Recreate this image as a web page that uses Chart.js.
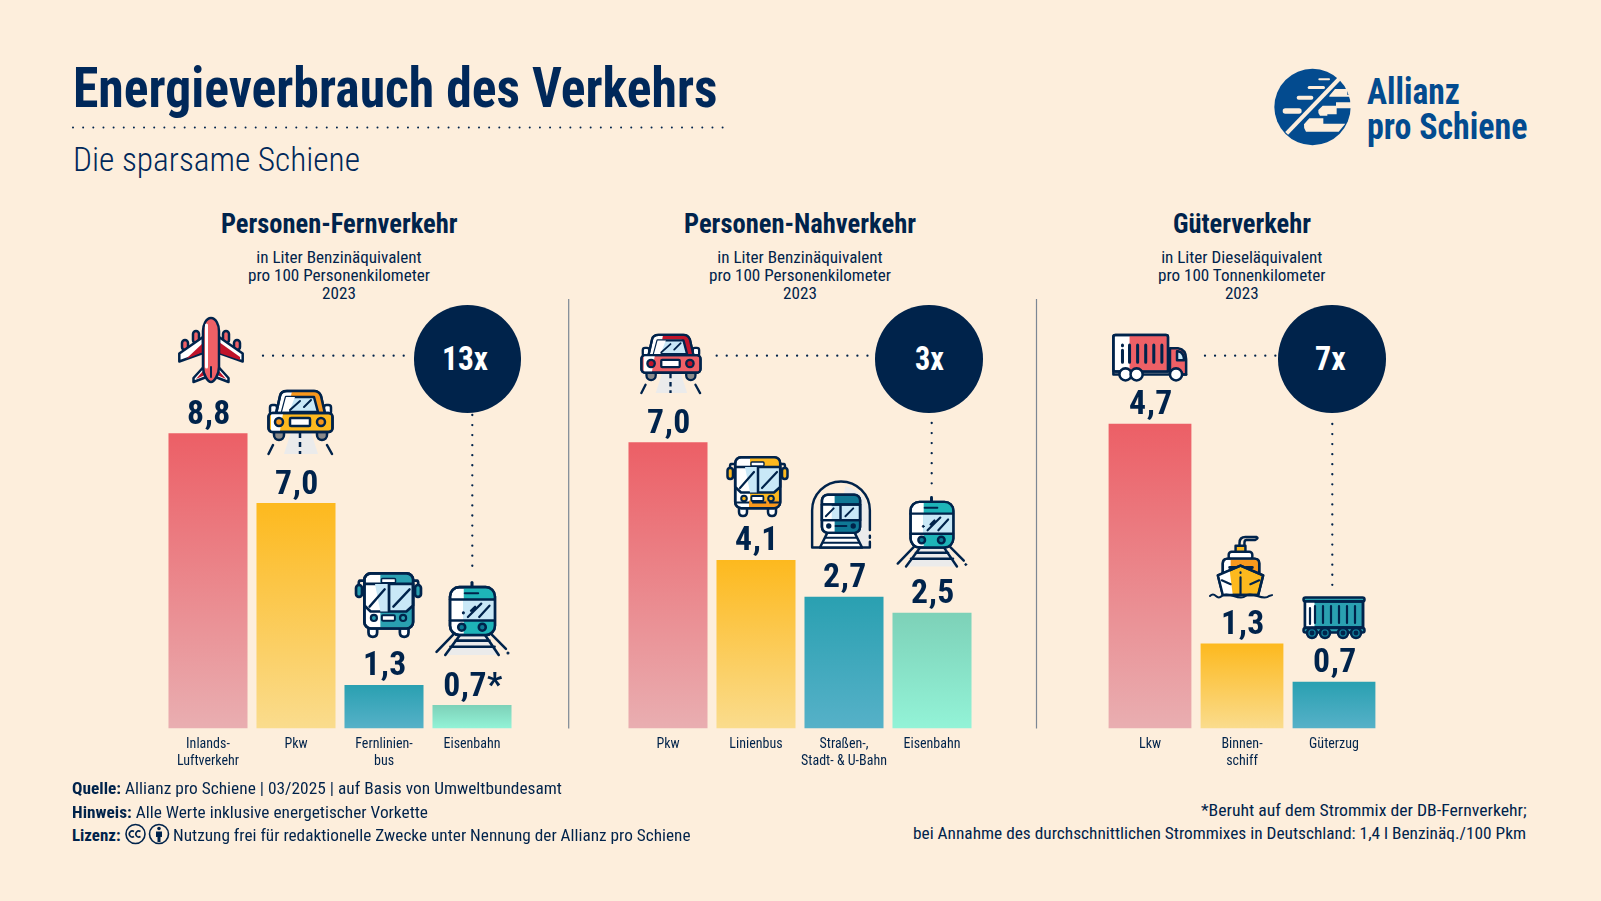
<!DOCTYPE html>
<html lang="de">
<head>
<meta charset="utf-8">
<title>Energieverbrauch des Verkehrs</title>
<script src="https://cdn.jsdelivr.net/npm/chart.js@4"></script>
<style>
  html, body { margin: 0; padding: 0; background: #fdeedc; }
  #page { position: relative; width: 1601px; height: 901px; overflow: hidden; background: #fdeedc;
          color: #00234b; font-family: Roboto, sans-serif; font-stretch: 75%; }
  #page > * { position: absolute; }
  .t { white-space: nowrap; line-height: 1; transform-origin: left top; }
  .ring { border-radius: 50%; background: #00234b; }
</style>
</head>
<body>
<div id="page"></div>
<script>
// Werte wie beschriftet
const fernLabels = ['8,8', '7,0', '1,3', '0,7*'];
const nahLabels = ['7,0', '4,1', '2,7', '2,5'];
const gutLabels = ['4,7', '1,3', '0,7'];

// Balkenlaengen (die Grafik zeichnet nicht ganz massstabsgetreu)
const fernBars = [8.8, 6.72, 1.3, 0.7];
const nahBars = [7.0, 4.12, 3.22, 2.83];
const gutBars = [4.7, 1.31, 0.72];

const fernCats = [['Inlands-', 'Luftverkehr'], 'Pkw', ['Fernlinien-', 'bus'], 'Eisenbahn'];
const nahCats = ['Pkw', 'Linienbus', ['Straßen-,', 'Stadt- & U-Bahn'], 'Eisenbahn'];
const gutCats = ['Lkw', ['Binnen-', 'schiff'], 'Güterzug'];

const NAVY = '#00234b';
const BLUE = '#034b8f';
const RED = ['#ec5f66', '#e9aeb1'];
const YEL = ['#fdb91e', '#fadc8d'];
const TEAL = ['#2aa0b1', '#56b1c8'];
const MINT = ['#7dd1b8', '#93f3d7'];

const page = document.getElementById('page');

function add(html) {
    page.insertAdjacentHTML('beforeend', html);
}

// text at x (anchor 0 = left, .5 = centre, 1 = right), squeezed to the width seen in the picture
function text(x, y, str, size, w, anchor, style) {
    const el = document.createElement('div');
    el.className = 't';
    el.innerHTML = str;
    el.style.cssText = `left:0;top:${y}px;font-size:${size}px;${style || ''}`;
    page.appendChild(el);
    const sx = w / el.getBoundingClientRect().width;
    el.style.transform = `scaleX(${sx})`;
    el.style.left = (x - anchor * w) + 'px';
}

// --- Kopf ---
text(72.5, 60.5, 'Energieverbrauch des Verkehrs', 55.5, 644.5, 0, 'font-weight:700;color:#00285a');
text(72.5, 143, 'Die sparsame Schiene', 33.5, 287, 0, 'font-weight:300;color:#00285a');
add(`<svg style="left:0;top:0" width="1601" height="901">
  <line x1="73" y1="127.6" x2="723" y2="127.6" stroke="#00234b" stroke-width="2" stroke-linecap="round" stroke-dasharray="0 10.15"/>
</svg>`);

// --- Logo ---
add(`<svg style="left:1270px;top:65px" width="85" height="85" viewBox="0 0 255 255">
  <circle cx="127.5" cy="126" r="114.5" fill="${BLUE}"/>
  <g fill="#fdeedc">
    <rect x="145" y="40" width="35" height="6" rx="3"/>
    <rect x="113" y="63" width="52" height="9" rx="4.5"/>
    <rect x="80" y="92" width="50" height="12" rx="6"/>
    <rect x="38" y="130" width="57" height="16" rx="8"/>
    <path d="M178 92 L195 72 H232 V90 H244 V95 H178 Z"/>
    <path d="M158 122 H198 V112 H244 V130 H200 V148 H172 V152 H150 Q143 145 145 135 Z"/>
    <path d="M118 160 H160 V176 H226 L206 200 H108 Q100 190 102 178 Z"/>
  </g>
  <line x1="207" y1="42" x2="50" y2="205" stroke="#fdeedc" stroke-width="12"/>
</svg>`);
text(1367, 74, 'Allianz', 36.6, 93, 0, `font-weight:700;color:${BLUE}`);
text(1367, 109, 'pro Schiene', 36.6, 160.5, 0, `font-weight:700;color:${BLUE}`);

// --- Ueberschriften der drei Teile ---
const subFern = 'in Liter Benzinäquivalent<br>pro 100 Personenkilometer<br>2023';
const subGut = 'in Liter Dieseläquivalent<br>pro 100 Tonnenkilometer<br>2023';
text(339, 210.5, 'Personen-Fernverkehr', 27, 236.5, 0.5, 'font-weight:700');
text(339, 249, subFern, 16.5, 182, 0.5, 'text-align:center;line-height:18.1px');
text(800, 210.5, 'Personen-Nahverkehr', 27, 232, 0.5, 'font-weight:700');
text(800, 249, subFern, 16.5, 182, 0.5, 'text-align:center;line-height:18.1px');
text(1242, 210.5, 'Güterverkehr', 27, 138, 0.5, 'font-weight:700');
text(1242, 249, subGut, 16.5, 167.5, 0.5, 'text-align:center;line-height:18.1px');

// Trennlinien und Punktlinien zum Kreis
add(`<svg style="left:0;top:0" width="1601" height="901">
  <g stroke="#7c8794" stroke-width="1.2">
    <line x1="568.7" y1="299" x2="568.7" y2="728.5"/>
    <line x1="1036.5" y1="299" x2="1036.5" y2="728.5"/>
  </g>
  <g stroke="#00234b" stroke-width="2.3" stroke-linecap="round" stroke-dasharray="0 10.05" fill="none">
    <line x1="263" y1="355.7" x2="410" y2="355.7"/>
    <line x1="472.3" y1="415" x2="472.3" y2="568"/>
    <line x1="716.7" y1="355.7" x2="874" y2="355.7"/>
    <line x1="931.7" y1="423" x2="931.7" y2="484"/>
    <line x1="1205" y1="355.7" x2="1278" y2="355.7"/>
    <line x1="1332.3" y1="424" x2="1332.3" y2="587"/>
  </g>
</svg>`);

// --- Balken ---
const barLabels = {
    id: 'barLabels',
    afterDatasetsDraw(chart, args, opts) {
        const ctx = chart.ctx;
        const bars = chart.getDatasetMeta(0).data;
        ctx.save();
        ctx.fillStyle = NAVY;
        ctx.textAlign = 'center';
        ctx.textBaseline = 'alphabetic';
        ctx.font = '700 condensed 33.7px Roboto, sans-serif';
        ctx.letterSpacing = '0.5px';
        bars.forEach((bar, i) => {
            ctx.fillText(opts.texts[i], bar.x + 1, bar.y - 9.5);
        });
        ctx.restore();
    }
};

function fillFor(colors) {
    return (c) => {
        const chart = c.chart;
        if (!chart.chartArea) return colors[c.dataIndex][0];
        const y = chart.scales.y;
        const g = chart.ctx.createLinearGradient(0, y.getPixelForValue(c.raw), 0, y.getPixelForValue(0));
        g.addColorStop(0, colors[c.dataIndex][0]);
        g.addColorStop(1, colors[c.dataIndex][1]);
        return g;
    };
}

// left = linker Rand des Plotbereichs, pitch = Breite je Kategorie
function makeChart(left, pitch, yMax, cats, bars, texts, colors, barPct) {
    const pad = 45;
    const width = pitch * cats.length + pad * 2;
    const canvas = document.createElement('canvas');
    canvas.width = width;
    canvas.height = 500;
    canvas.style.cssText = `left:${left - pad}px;top:290px;width:${width}px;height:500px`;
    page.appendChild(canvas);

    return new Chart(canvas, {
        type: 'bar',
        data: {
            labels: cats,
            datasets: [{
                data: bars,
                backgroundColor: fillFor(colors),
                borderWidth: 0,
                barPercentage: barPct,
                categoryPercentage: 1
            }]
        },
        options: {
            responsive: false,
            animation: false,
            layout: { padding: { left: pad, right: pad } },
            plugins: {
                legend: { display: false },
                tooltip: { enabled: false },
                barLabels: { texts: texts }
            },
            scales: {
                x: {
                    grid: { display: false, drawTicks: false },
                    border: { display: false },
                    afterFit: (s) => { s.height = 61.5; },
                    ticks: {
                        color: NAVY,
                        padding: 8,
                        maxRotation: 0,
                        autoSkip: false,
                        font: { family: 'Roboto, sans-serif', weight: 'condensed', size: 14, lineHeight: 1.18 }
                    }
                },
                y: { display: false, min: 0, max: yMax }
            }
        },
        plugins: [barLabels]
    });
}

makeChart(163.5, 88, 13.07, fernCats, fernBars, fernLabels, [RED, YEL, TEAL, MINT], 0.898);
makeChart(624, 88, 10.72, nahCats, nahBars, nahLabels, [RED, YEL, TEAL, MINT], 0.898);
makeChart(1103.5, 92, 6.76, gutCats, gutBars, gutLabels, [RED, YEL, TEAL], 0.9);

// --- Kreise ---
function ring(cx, cy, r, str, tx, w) {
    add(`<div class="ring" style="left:${cx - r}px;top:${cy - r}px;width:${2 * r}px;height:${2 * r}px"></div>`);
    text(tx, 341, str, 34, w, 0.5, 'color:#fff;font-weight:700');
}
ring(467.7, 359, 53.7, '13x', 464.7, 46);
ring(929, 359, 53.7, '3x', 929, 29);
ring(1332, 359, 53.7, '7x', 1330, 30.7);

// --- Piktogramme ---
const S = `stroke="${NAVY}" stroke-width="2.5" stroke-linecap="round" stroke-linejoin="round"`;
const GLASS = '#c9e8f7';

function plane() {
    return `<g ${S}>
      <rect x="15" y="14" width="6" height="12" rx="3" fill="#ee6066"/><rect x="45" y="14" width="6" height="12" rx="3" fill="#ee6066"/>
      <rect x="4" y="23" width="6" height="10" rx="3" fill="#ee6066"/><rect x="56" y="23" width="6" height="10" rx="3" fill="#ee6066"/>
      <path d="M25 20 L1.3 36.5 V44.5 L25 36 Z" fill="#fff"/>
      <path d="M25 26 L8 42 L25 35 Z" fill="#c0142a" stroke="none"/>
      <path d="M41 20 L64.7 36.5 V44.5 L41 36 Z" fill="#fff"/>
      <path d="M41 25 L62 40 V43 L41 36 Z" fill="#c0142a" stroke="none"/>
      <path d="M25.5 50 L15.5 61 V65 L28.5 60 Z" fill="#fff"/>
      <path d="M25 54 L18 62 L27 58 Z" fill="#c0142a" stroke="none"/>
      <path d="M40.5 50 L50.5 61 V65 L37.5 60 Z" fill="#fff"/>
      <path d="M41 54 L48 62 L39 58 Z" fill="#c0142a" stroke="none"/>
      <path d="M33 1 C28 1 25 8 25 14 V50 C25 58 30 65 33 65 C36 65 41 58 41 50 V14 C41 8 38 1 33 1 Z" fill="#ee6066"/>
      <path d="M28.5 8 V50" stroke="#fff" stroke-width="3"/>
      <path d="M33 50 V60" stroke-width="2"/>
    </g>`;
}

function car(main, dark) {
    return `<path d="M24 43 H44 L51 65 H17 Z" fill="#ebebeb"/>
    <g ${S}>
      <rect x="7" y="39" width="10" height="12" rx="5" fill="#8a8a8a"/>
      <rect x="50" y="39" width="10" height="12" rx="5" fill="#8a8a8a"/>
      <rect x="3" y="16" width="7" height="9" rx="2.5" fill="#fff"/>
      <rect x="57" y="16" width="7" height="9" rx="2.5" fill="#fff"/>
      <path d="M9 25 L13 7 Q14 2 20 2 H47 Q52 2 54 7 L58 25 Z" fill="#fff"/>
      <path d="M25 2 H47 Q52 2 54 7 L58 25 H50 L45 7 H24 Z" fill="${dark}" stroke="none"/>
      <path d="M9 25 L13 7 Q14 2 20 2 H47 Q52 2 54 7 L58 25 Z" fill="none"/>
      <path d="M15 23 L19 8 H47 L51 23 Z" fill="${GLASS}"/>
      <path d="M15 23 L19 8 H28 L22 23 Z" fill="#fff" stroke="none"/>
      <path d="M23 21 L33 12 M37 18 L44 11" stroke-width="2"/>
      <rect x="1.5" y="24" width="64" height="19" rx="4" fill="${main}"/>
      <path d="M4 25 H16 Q14 33 13 42 H4 Z" fill="#fff" stroke="none"/>
      <rect x="1.5" y="24" width="64" height="19" rx="4" fill="none"/>
      <circle cx="12" cy="33" r="4" fill="${dark}"/><circle cx="54" cy="33" r="4" fill="${dark}"/>
      <rect x="23" y="29" width="20" height="8" rx="1" fill="#fff"/>
      <path d="M33 44 V65" stroke-dasharray="5 4" stroke-linecap="butt"/>
      <path d="M6 56 L1.5 65 M60 56 L65 65"/>
    </g>`;
}

// low = farbiges Band unten (nur beim Linienbus)
function bus(top, low) {
    return `<g ${S}>
      <path d="M8 8 H4 Q3 8 3 11 V13 M53 8 H57 Q58 8 58 11 V13" fill="none"/>
      <rect x="0.5" y="12" width="5.5" height="11" rx="2.7" fill="${top}"/>
      <rect x="55" y="12" width="5.5" height="11" rx="2.7" fill="${top}"/>
      <path d="M12 52 V56 Q12 60 16 60 Q20 60 20 56 V52 M41 52 V56 Q41 60 45 60 Q49 60 49 56 V52" fill="#fff"/>
      <rect x="8.2" y="1.2" width="45" height="51" rx="6" fill="#fff"/>
      <path d="M23 2 H47 Q53 2 53 8 V46 Q53 51 47 51 H23 Z" fill="${top}" stroke="none"/>
      ${low ? `<path d="M22 44.5 H53 V51 H22 Z" fill="${low}" stroke="none"/>` : ''}
      <path d="M8.2 11 H30 V36.5 H14 L8.2 31 Z" fill="#fff"/>
      <path d="M18 11 H30 V36.5 H23 Z" fill="${GLASS}" stroke="none"/>
      <path d="M31 11 H53.2 V31 L47 36.5 H31 Z" fill="${GLASS}"/>
      <path d="M13 32 L27 16 M35 32 L50 16" stroke-width="2.2"/>
      <rect x="8.2" y="1.2" width="45" height="51" rx="6" fill="none"/>
      <rect x="24" y="6" width="13" height="4" rx="1" fill="#fff" stroke-width="1.4"/>
      <rect x="24.4" y="40" width="12" height="5" rx="1" fill="#fff" stroke-width="1.8"/>
      <circle cx="17" cy="42.5" r="2.8" fill="${top}" stroke-width="2"/><circle cx="44" cy="42.5" r="2.8" fill="${top}" stroke-width="2"/>
      ${low ? `<path d="M8.2 46.5 H53" stroke-width="1.8" stroke-dasharray="14 3" stroke-linecap="butt"/>` : ''}
    </g>`;
}

function train() {
    return `<path d="M22 52 H50 L62 71 H10 Z" fill="#ebebeb"/>
    <g ${S}>
      <path d="M35 0.5 V5" stroke-width="3"/>
      <rect x="13.6" y="5" width="43.7" height="46.5" rx="9" fill="#fff"/>
      <path d="M27 5.5 H48 Q57 6 57 14 V42 Q57 51 48 51 H27 Z" fill="#1eb4b8" stroke="none"/>
      <path d="M26.5 17 H57 V37.5 H26.5 Z" fill="${GLASS}" stroke="none"/>
      <path d="M13.6 17 H57 M13.6 37.5 H57" />
      <path d="M31 34 L44 21 M38 24 L34 28 M42 34 L52 23" stroke-width="2.2"/>
      <path d="M28 11 H41" stroke-width="2"/>
      <circle cx="26.6" cy="30" r="1" fill="${NAVY}" stroke-width="1"/>
      <rect x="13.6" y="5" width="43.7" height="46.5" rx="9" fill="none"/>
      <circle cx="25" cy="44" r="3.4" fill="#0e7c96"/><circle cx="45" cy="44" r="3.4" fill="#0e7c96"/>
      <path d="M17 51 L0.5 68 M54 51 L68 65 M23 52 L9 71 M48 52 L61 71 M19 57 H52 M14 63 H57"/>
      <circle cx="70" cy="69" r="1" fill="${NAVY}" stroke-width="1"/>
    </g>`;
}

function tunnel() {
    return `<path d="M36 5 Q60 12 60 34 V68 H24 Z" fill="#ebebeb"/>
    <path d="M2 68 V30 A29.5 29.5 0 0 1 61 30 V50 M61 56 V58 M61 62 V68 H2" fill="none" ${S} stroke-width="2.6"/>
    <g ${S}>
      <path d="M10 68 L18 52 H45 L53 68 Z" fill="#fff"/>
      <path d="M16 58 H47 M13 63 H50" stroke-width="2"/>
      <rect x="12" y="14" width="39" height="39" rx="6" fill="#fff"/>
      <path d="M25 15 H45 Q51 15 51 20 V52 H25 Z" fill="#0f7895" stroke="none"/>
      <rect x="12" y="24" width="39" height="16" fill="${GLASS}"/>
      <path d="M12 24 H22 V40 H12 Z" fill="#fff" stroke="none"/>
      <path d="M31 25 V39 M12 24 H51 M12 40 H51"/>
      <path d="M16 36 L24 28 M36 36 L44 28" stroke-width="2"/>
      <rect x="12" y="14" width="39" height="39" rx="6" fill="none"/>
      <circle cx="19" cy="46" r="1.5" fill="${NAVY}"/><circle cx="44" cy="46" r="1.5" fill="${NAVY}"/>
      <path d="M26 46 H37" stroke-width="2"/>
    </g>`;
}

function truck() {
    return `<g ${S}>
      <path d="M4 2 H54 Q56 2 56 4 V38 H4 Q2 38 2 36 V4 Q2 2 4 2 Z" fill="#fff"/>
      <path d="M18 3 H55 V37 H18 Z" fill="#ee6066" stroke="none"/>
      <path d="M4 2 H54 Q56 2 56 4 V38 H4 Q2 38 2 36 V4 Q2 2 4 2 Z" fill="none"/>
      <path d="M11 17 V29 M11 12 V12.5 M18 12 V29 M26 12 V29 M34 12 V29 M42 12 V29 M50 12 V29" stroke-width="3"/>
      <path d="M58 15 H66 Q74 16 74 26 V41 H58 Z" fill="#ee6066"/>
      <path d="M65 18 H66 Q72 19 72 27 H65 Z" fill="${GLASS}"/>
      <path d="M2 38 V41 H74" fill="none"/>
      <circle cx="14" cy="41" r="6" fill="#fff"/><circle cx="25" cy="41" r="6" fill="#fff"/><circle cx="64" cy="41" r="6" fill="#fff"/>
    </g>`;
}

function ship() {
    return `<g ${S}>
      <path d="M31 12 V8 Q31 2 37 2 H48 Q51 3 47 5 H38 Q36 5 36 8 V12" fill="none"/>
      <rect x="27" y="11" width="10" height="7" fill="#fdb91e"/>
      <rect x="20" y="17" width="24" height="8" rx="3" fill="#fff"/>
      <path d="M14 29 Q14 24 19 24 H46 Q51 24 51 29 V42 H14 Z" fill="#fff"/>
      <path d="M22 25 H46 Q51 24 51 29 V40 H22 Z" fill="#f8981d" stroke="none"/>
      <path d="M14 29 Q14 24 19 24 H46 Q51 24 51 29 V42 H14 Z" fill="none"/>
      <path d="M21 33 H27 M38 33 H44" stroke-width="3"/>
      <path d="M9 41 L32 31 L55 41 L50 61 H14 Z" fill="#fdb91e"/>
      <path d="M10 41 L21 36 L24 60 H14 Z" fill="#fff" stroke="none"/>
      <path d="M9 41 L32 31 L55 41 L50 61 H14 Z" fill="none"/>
      <path d="M32 43 V61 M32 38 V38.5 M13 46 L22 50 M51 46 L42 50" stroke-width="2.2"/>
      <path d="M1 62 Q4 59 7 62 Q10 65 13 62 T25 62 T37 62 T49 62 T61 62 L64 61" fill="none" stroke-width="2"/>
    </g>`;
}

function wagon() {
    return `<g ${S}>
      <rect x="1.5" y="1.5" width="61" height="4" rx="2" fill="#2aa0b1"/>
      <rect x="3" y="5.5" width="58" height="26" fill="#2aa0b1"/>
      <rect x="3.5" y="6" width="9" height="25" fill="#fff" stroke="none"/>
      <rect x="3" y="5.5" width="58" height="26" fill="none"/>
      <path d="M8 12 V28 M13 10 V27 M21 10 V27 M29 10 V27 M37 10 V27 M45 10 V27 M53 10 V27" stroke-width="2.2"/>
      <rect x="1.5" y="32" width="61" height="4.5" rx="2" fill="#2aa0b1"/>
      <circle cx="10" cy="37" r="5" fill="#0f7895"/><circle cx="23" cy="37" r="5" fill="#0f7895"/>
      <circle cx="41" cy="37" r="5" fill="#0f7895"/><circle cx="54" cy="37" r="5" fill="#0f7895"/>
      <circle cx="10" cy="37" r="1.2" fill="${NAVY}"/><circle cx="23" cy="37" r="1.2" fill="${NAVY}"/>
      <circle cx="41" cy="37" r="1.2" fill="${NAVY}"/><circle cx="54" cy="37" r="1.2" fill="${NAVY}"/>
    </g>`;
}

function icon(x, y, w, h, vbW, vbH, body) {
    add(`<svg style="left:${x}px;top:${y}px;overflow:visible" width="${w}" height="${h}" viewBox="0 0 ${vbW} ${vbH}">${body}</svg>`);
}
icon(178, 317, 66, 66, 66, 66, plane());
icon(266.7, 389, 66, 66, 66, 66, car('#fdb91e', '#f8981d'));
icon(355, 572, 67, 66, 61, 61, bus('#2aa0b1', null));
icon(436, 582, 72, 73, 70, 71, train());
icon(640, 333, 61, 61, 66, 66, car('#ee6066', '#c0142a'));
icon(726.7, 455.7, 61, 61, 61, 61, bus('#fdb91e', '#f8981d'));
icon(810, 480.7, 62, 68.5, 63, 70, tunnel());
icon(897, 496.7, 69, 69.5, 70, 71, train());
icon(1110.5, 332.7, 77.5, 48.5, 76, 48, truck());
icon(1209, 535, 64, 64, 65, 65, ship());
icon(1302, 596, 64, 42, 64, 42, wagon());

// --- Fusszeile ---
text(72, 780, '<b>Quelle:</b> Allianz pro Schiene | 03/2025 | auf Basis von Umweltbundesamt', 17, 490, 0);
text(72, 803.5, '<b>Hinweis:</b> Alle Werte inklusive energetischer Vorkette', 17, 356, 0);
text(72, 826.5, '<b>Lizenz:</b>', 17, 48.5, 0);
add(`<svg style="left:124px;top:822px" width="48" height="24" viewBox="0 0 48 24">
  <g fill="none" stroke="${NAVY}" stroke-width="1.6">
    <circle cx="11.5" cy="12" r="9.5"/><circle cx="35" cy="12" r="9.5"/>
    <path d="M10 9.5 A3 3 0 1 0 10 14.5 M16.5 9.5 A3 3 0 1 0 16.5 14.5"/>
  </g>
  <circle cx="35" cy="6.5" r="1.8" fill="${NAVY}"/>
  <path d="M32 9.5 H38 V15 H36.5 V20 H33.5 V15 H32 Z" fill="${NAVY}"/>
</svg>`);
text(172.5, 826.5, 'Nutzung frei für redaktionelle Zwecke unter Nennung der Allianz pro Schiene', 17, 517.5, 0);
text(1526, 802, '*Beruht auf dem Strommix der DB-Fernverkehr;', 17, 325.5, 1);
text(1526, 825, 'bei Annahme des durchschnittlichen Strommixes in Deutschland: 1,4 l Benzinäq./100 Pkm', 17, 613, 1);
</script>
</body>
</html>
